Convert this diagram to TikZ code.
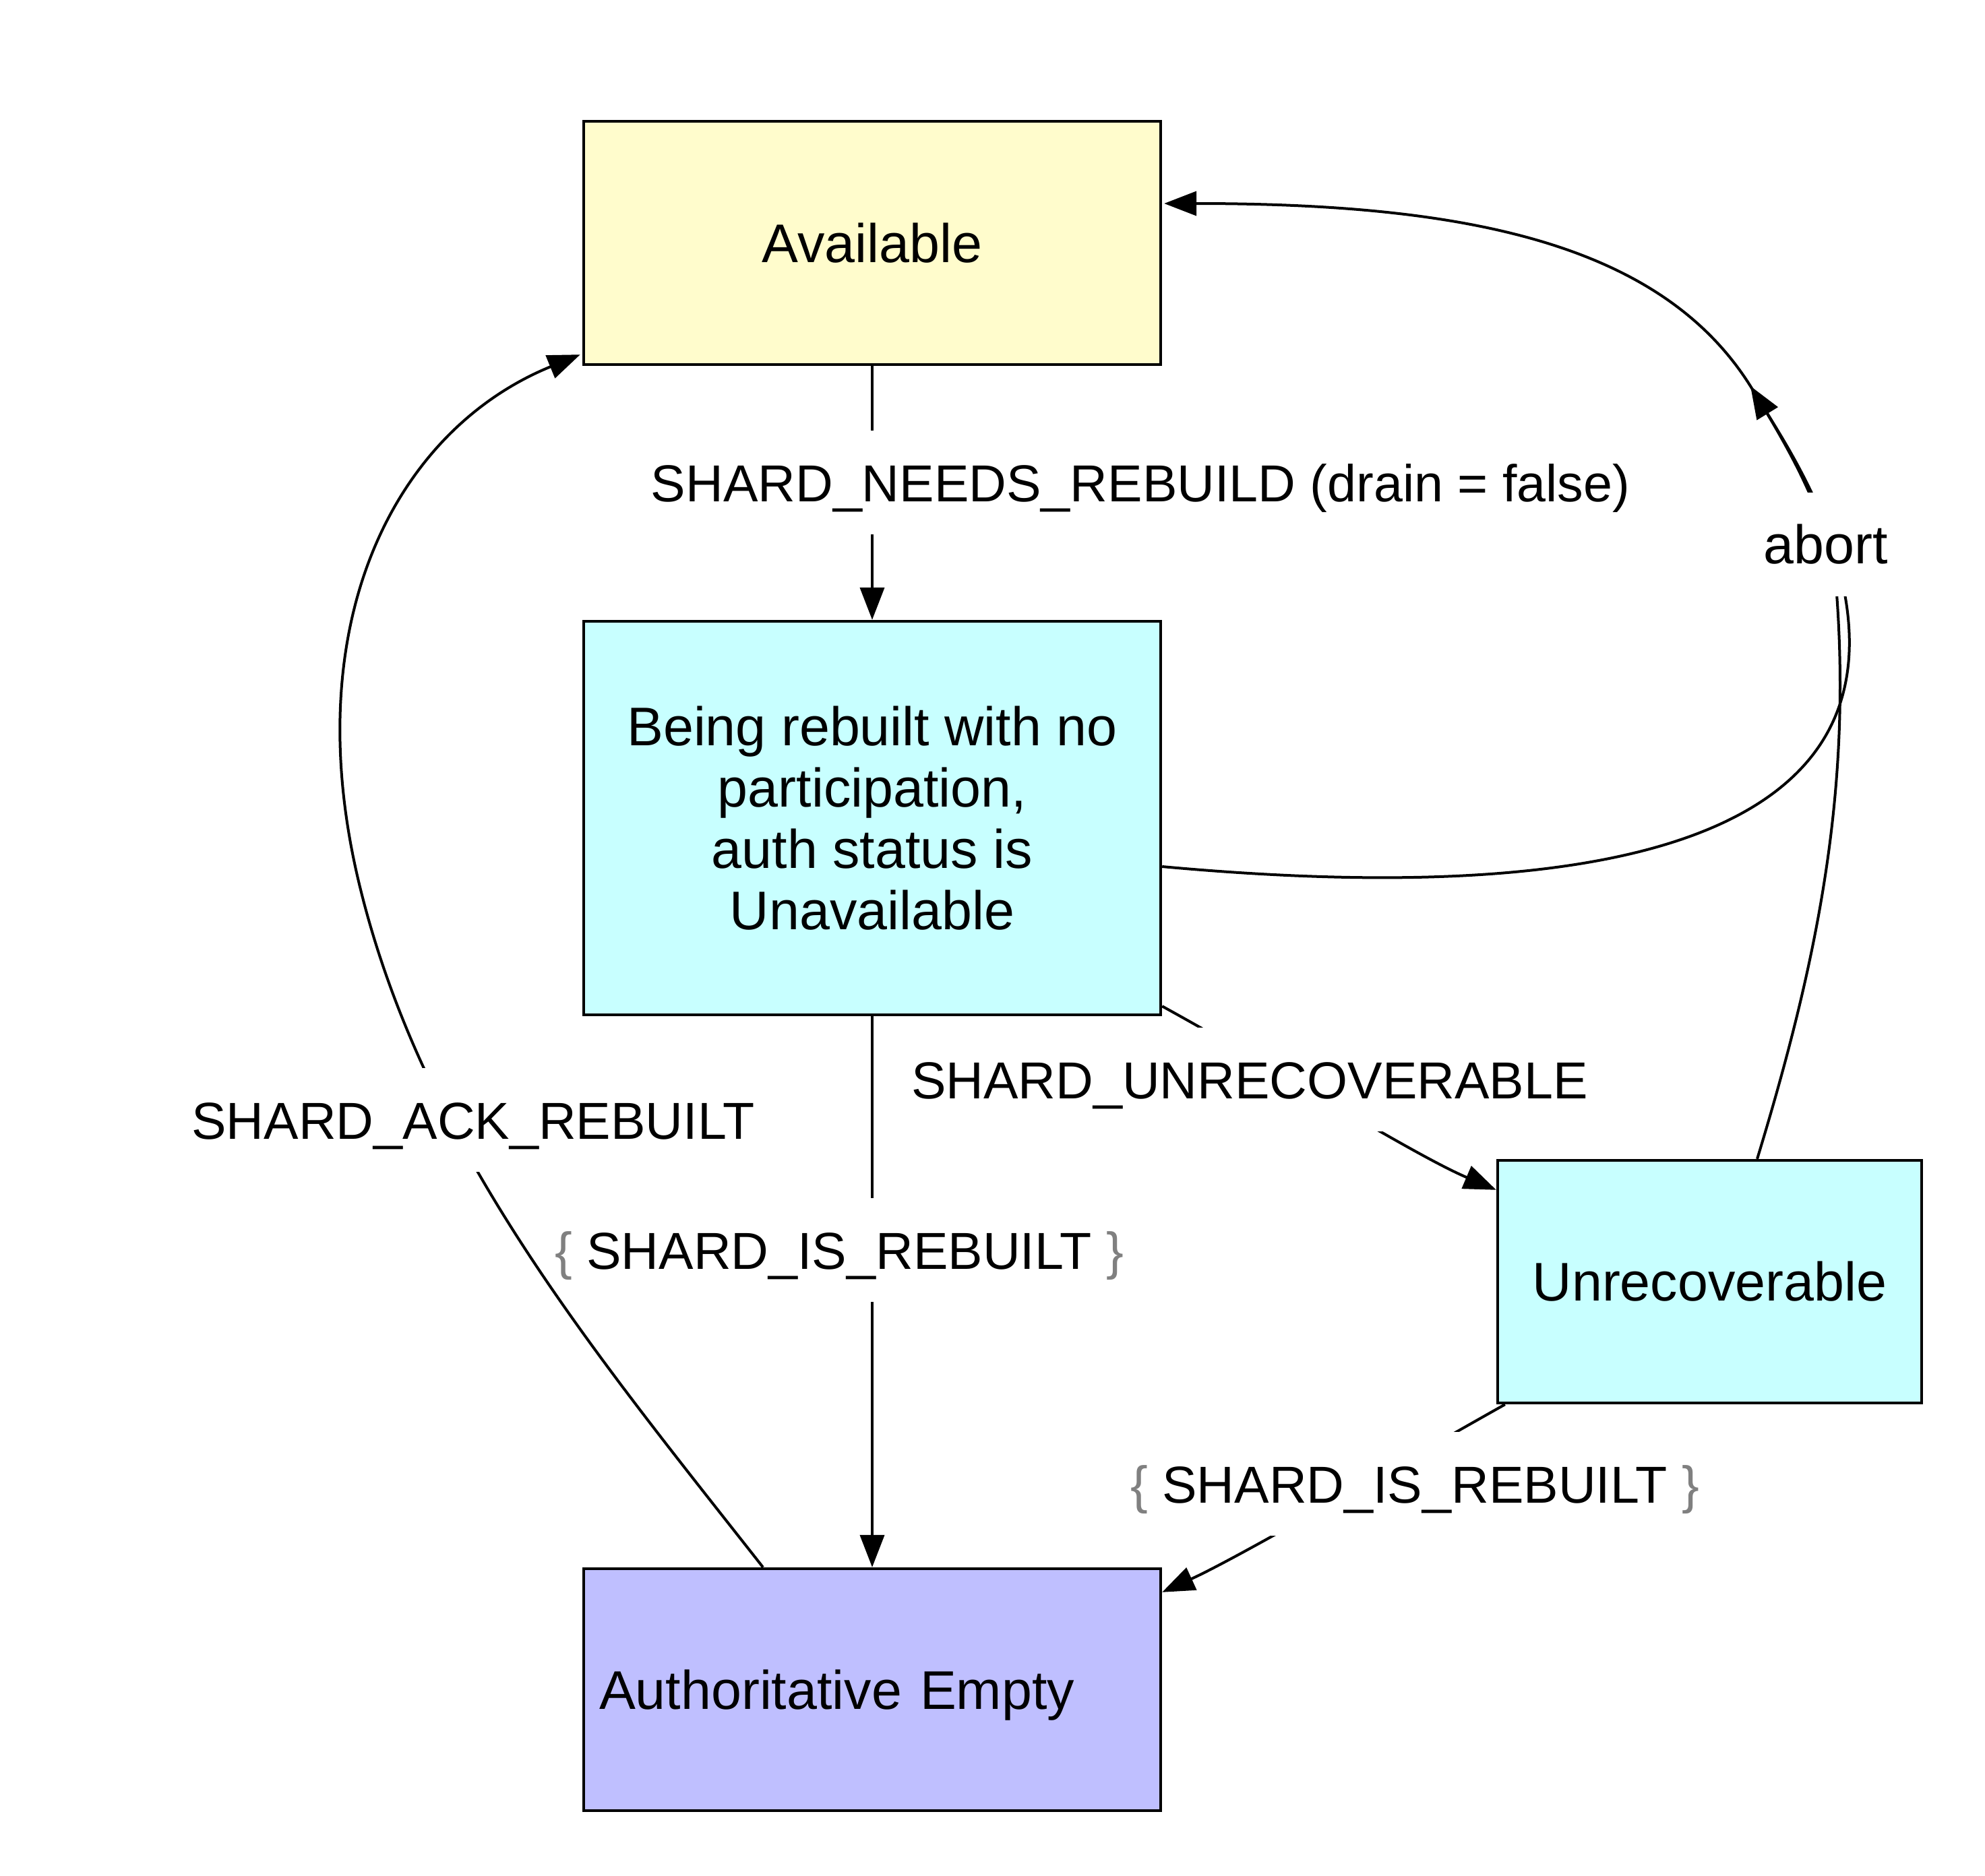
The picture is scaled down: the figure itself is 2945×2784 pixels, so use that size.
\documentclass[tikz,border=0pt]{standalone}
\usepackage{fontspec}
\setmainfont{Liberation Sans}
\usetikzlibrary{arrows.meta,calc}
\definecolor{availfill}{HTML}{FFFCCC}
\definecolor{cyanfill}{HTML}{C8FFFF}
\definecolor{lavfill}{HTML}{BFBFFF}
\definecolor{bracegray}{HTML}{808080}
\newcommand{\graylbrace}{\textcolor{bracegray}{\{}}
\newcommand{\grayrbrace}{\textcolor{bracegray}{\}}}
\begin{document}
\begin{tikzpicture}[x=0.25pt,y=-0.25pt,
  statebox/.style={draw, line width=1.1pt, minimum width=214pt, inner sep=0pt, align=center,
    font=\fontsize{20.2pt}{22.75pt}\selectfont},
  edgelbl/.style={fill=white, inner xsep=3pt, inner ysep=0pt, minimum height=38.5pt,
    text height=14pt, text depth=0pt, font=\fontsize{19.3pt}{22.75pt}\selectfont},
  conn/.style={line width=1pt},
  arrowed/.style={-{Triangle[length=12pt,width=9pt]}}
]
\fill[white] (0,0) rectangle (2945,2784);
\useasboundingbox (0,0) rectangle (2945,2784);

% states
\node[statebox, fill=availfill, minimum height=90.25pt, text depth=0pt] (avail) at (1294,360.5) {Available};
\node[statebox, fill=cyanfill, minimum height=146pt] (being) at (1294,1214) {Being rebuilt with no\\participation,\\auth status is\\Unavailable};
\node[statebox, fill=cyanfill, minimum width=157.25pt, minimum height=90pt] (unrec) at (2536.5,1902) {Unrecoverable};
\node[statebox, fill=lavfill, minimum height=89.75pt, inner xsep=5.75pt, text width=202.5pt, align=left, text depth=0pt] (auth) at (1294,2507.5) {Authoritative Empty};

% connectors
\draw[conn, arrowed] (avail.south) -- (being.north);
\draw[conn, arrowed] (being.south) -- (auth.north);
\draw[conn, arrowed] ($(being.south east)+(0,-15)$) .. controls (1900,1590) and (2100,1715) .. ($(unrec.north west)+(0,46)$);
\draw[conn, arrowed] ($(unrec.south west)+(13,0)$) .. controls (2080,2170) and (1840,2310) .. ($(auth.north east)+(0,37)$);
\coordinate (join) at (2597,573);
\draw[conn, arrowed] ($(unrec.north)+(70.5,0)$) .. controls (2694,1434) and (2747,1182) .. (2725,882)
   .. controls (2717,772) and (2655,667) .. (join)
   .. controls (2464,361) and (2175,302) .. ($(avail.east)+(3,-58.5)$);
\draw[conn, arrowed] ($(being.east)+(0,72)$) .. controls (2421,1350) and (2800,1229) .. (2737,882)
   .. controls (2720,772) and (2655,667) .. (join);

% labels
\node[edgelbl] (lneeds) at (1692,716) {SHARD\_NEEDS\_REBUILD (drain = false)};
\node[edgelbl] (lunrec) at (1854,1602) {SHARD\_UNRECOVERABLE};
\node[edgelbl] (lisone) at (1245,1855) {\graylbrace{} SHARD\_IS\_REBUILT \grayrbrace};
\node[edgelbl] (listwo) at (2099,2202) {\graylbrace{} SHARD\_IS\_REBUILT \grayrbrace};
\node[edgelbl, font=\fontsize{20.2pt}{22.75pt}\selectfont] (labort) at (2709,808) {abort};

% acknowledgement connector, drawn after the other labels so only its own label breaks it
\draw[conn, arrowed] ($(auth.north)+(-162,0)$) .. controls (880,2005) and (627,1701) .. (533,1312)
   .. controls (439,923) and (587,638) .. ($(avail.south west)+(-3,-17)$);
\node[edgelbl] (lack) at (702,1662) {SHARD\_ACK\_REBUILT};
\end{tikzpicture}
\end{document}
